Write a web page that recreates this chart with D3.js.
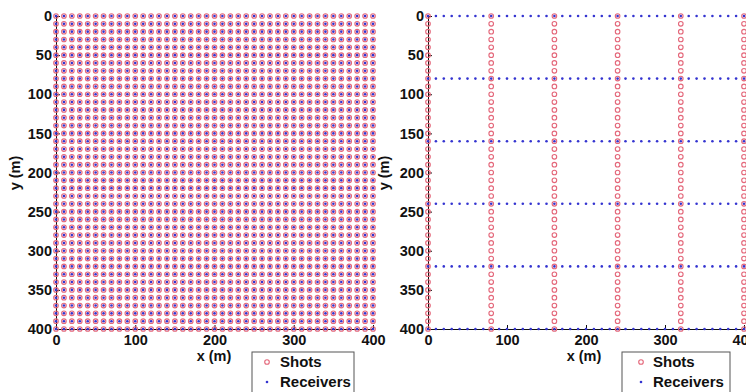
<!DOCTYPE html>
<html><head><meta charset="utf-8">
<script src="https://cdn.jsdelivr.net/npm/d3@7/dist/d3.min.js"></script>
<style>body{margin:0;background:#fff}svg{display:block}text{font-family:"Liberation Sans",Arial,sans-serif;font-weight:bold;fill:#111}</style>
</head><body>
<script>
// Data
const gridPositions = [0,10,20,30,40,50,60,70,80,90,100,110,120,130,140,150,160,170,180,190,200,210,220,230,240,250,260,270,280,290,300,310,320,330,340,350,360,370,380,390,400];
const shotLineX = [0,80,160,240,320,400];
const receiverLineY = [0,80,160,240,320,400];
const tickValues = [0,100,200,300,400];
const yTickValues = [0,50,100,150,200,250,300,350,400];
const legendLabels = ["Shots","Receivers"];
const axisLabels = {x:"x (m)", y:"y (m)"};

const W=746,H=392;
const svg=d3.select("body").append("svg").attr("width",W).attr("height",H);

const shotColor="#e4677a", recColor="#3434d0";

function panel(x0,x1,shots,receivers,legendBox,xLabelX,yLabelX){
  const x=d3.scaleLinear().domain([0,400]).range([x0,x1]);
  const y=d3.scaleLinear().domain([0,400]).range([16,329]);
  const g=svg.append("g");
  // axes
  const ax=g.append("g").attr("transform",`translate(0,${y(400)})`)
    .call(d3.axisBottom(x).tickValues(tickValues).tickSize(-4).tickPadding(6).tickFormat(d3.format("d")));
  const ay=g.append("g").attr("transform",`translate(${x(0)},0)`)
    .call(d3.axisLeft(y).tickValues(yTickValues).tickSize(-4).tickPadding(4).tickFormat(d3.format("d")));
  [ax,ay].forEach(a=>{a.selectAll("path,line").attr("stroke","#111");a.selectAll("text").style("font-size","14.5px").attr("fill","#111");});
  // shots
  g.append("g").selectAll("circle").data(shots).join("circle")
    .attr("cx",d=>x(d[0])).attr("cy",d=>y(d[1])).attr("r",2.3)
    .attr("fill","none").attr("stroke",shotColor).attr("stroke-width",1.1);
  // receivers
  g.append("g").selectAll("circle").data(receivers).join("circle")
    .attr("cx",d=>x(d[0])).attr("cy",d=>y(d[1])).attr("r",1.3)
    .attr("fill",recColor);
  // labels
  g.append("text").attr("x",xLabelX).attr("y",361).attr("text-anchor","middle").style("font-size","14.5px").text(axisLabels.x);
  g.append("text").attr("transform",`translate(${yLabelX},173) rotate(-90)`).attr("text-anchor","middle").style("font-size","14.5px").text(axisLabels.y);
  // legend
  const lg=g.append("g");
  lg.append("rect").attr("x",legendBox.x).attr("y",352).attr("width",legendBox.w).attr("height",44)
    .attr("fill","#fff").attr("stroke","#555").attr("stroke-width",1);
  legendLabels.forEach((lab,i)=>{
    const cy=362+i*20;
    if(i===0) lg.append("circle").attr("cx",legendBox.mx).attr("cy",cy).attr("r",2.3).attr("fill","none").attr("stroke",shotColor).attr("stroke-width",1.1);
    else lg.append("circle").attr("cx",legendBox.mx).attr("cy",cy).attr("r",1.3).attr("fill",recColor);
    lg.append("text").attr("x",legendBox.tx).attr("y",cy).attr("dy","0.36em").style("font-size","15px").text(lab);
  });
}

// Left: full grid
const fullGrid=[];
gridPositions.forEach(px=>gridPositions.forEach(py=>fullGrid.push([px,py])));
panel(56,373,fullGrid,fullGrid,{x:252,w:102,mx:267,tx:280},214,20);

// Right: orthogonal lines
const rShots=[], rRecs=[];
shotLineX.forEach(sx=>gridPositions.forEach(py=>rShots.push([sx,py])));
receiverLineY.forEach(ry=>gridPositions.forEach(px=>rRecs.push([px,ry])));
panel(428,744,rShots,rRecs,{x:622,w:108,mx:641,tx:653},584,389);
</script>
</body></html>
